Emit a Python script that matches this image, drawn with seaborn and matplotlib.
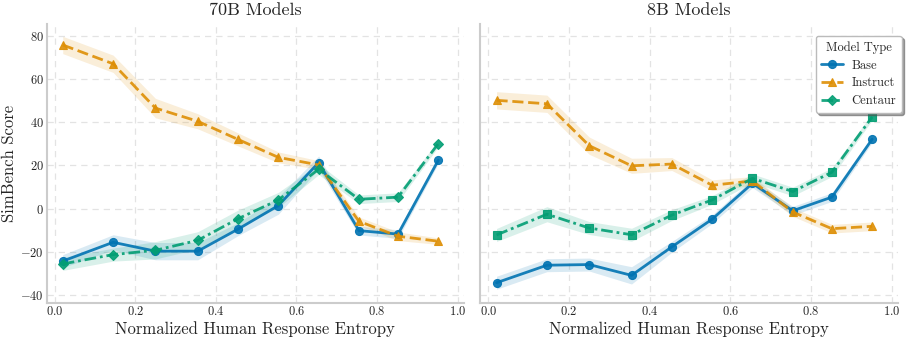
import numpy as np
import pandas as pd
import matplotlib
matplotlib.use("Agg")
import matplotlib.pyplot as plt
import seaborn as sns

x = [0.02, 0.145, 0.25, 0.355, 0.455, 0.555, 0.655, 0.755, 0.852, 0.952]

b70_base = [-24.3, -15.6, -19.7, -19.7, -9.5, 1.4, 21.3, -10.2, -11.8, 22.4]
b70_instruct = [75.7, 67.0, 46.5, 40.4, 32.0, 23.7, 20.2, -5.9, -12.8, -15.1]
b70_centaur = [-25.6, -21.3, -19.3, -14.7, -4.7, 4.0, 18.2, 4.3, 5.3, 30.1]
b70_base_ci = [3, 3.5, 4, 4, 3, 4, 3, 2, 2, 1.5]
b70_instruct_ci = [4, 4, 4.5, 3.5, 3, 2.5, 2, 2, 2, 1.5]
b70_centaur_ci = [3, 3, 4, 4, 4, 3.5, 2.5, 2, 2, 1.5]

b8_base = [-34.3, -26.2, -25.9, -30.9, -17.7, -4.9, 11.7, -1.0, 5.3, 32.1]
b8_instruct = [50.1, 48.5, 29.1, 19.8, 20.6, 10.8, 12.8, -1.6, -9.3, -8.2]
b8_centaur = [-12.2, -2.6, -9.0, -12.1, -3.0, 4.0, 14.0, 7.9, 16.8, 42.4]
b8_base_ci = [3, 3, 3, 4, 2.5, 2, 2, 2, 2, 1.5]
b8_instruct_ci = [4, 4, 4, 3.5, 3, 2.5, 2, 2, 2, 2]
b8_centaur_ci = [3, 3.5, 3, 3, 2.5, 2, 2, 2, 2, 1.5]

model_types = ["Base", "Instruct", "Centaur"]
panel_titles = ["70B Models", "8B Models"]

sns.set_theme(style="whitegrid")
plt.rcParams["font.family"] = ["cmr10", "DejaVu Serif"]
plt.rcParams["axes.formatter.use_mathtext"] = True
plt.rcParams["mathtext.fontset"] = "cm"

pal = sns.color_palette("colorblind")
colors = {"Base": pal[0], "Instruct": pal[1], "Centaur": pal[2]}
linestyles = {"Base": "-", "Instruct": (0, (4, 1.7)), "Centaur": (0, (4.2, 1.4, 1.0, 1.4))}

panels = [
    {"Base": (b70_base, b70_base_ci), "Instruct": (b70_instruct, b70_instruct_ci),
     "Centaur": (b70_centaur, b70_centaur_ci)},
    {"Base": (b8_base, b8_base_ci), "Instruct": (b8_instruct, b8_instruct_ci),
     "Centaur": (b8_centaur, b8_centaur_ci)},
]
panel_markers = [
    {"Base": "o", "Instruct": "^", "Centaur": "D"},
    {"Base": "o", "Instruct": "^", "Centaur": "s"},
]

fig, axes = plt.subplots(1, 2, figsize=(9.14, 3.4), dpi=100, sharey=True)
fig.subplots_adjust(left=0.051, right=0.982, top=0.93, bottom=0.11, wspace=0.04)

for ax, pdata, markers, title in zip(axes, panels, panel_markers, panel_titles):
    for m in model_types:
        vals, ci = pdata[m]
        df = pd.DataFrame({"x": x, "y": vals})
        lo = np.array(vals) - np.array(ci)
        hi = np.array(vals) + np.array(ci)
        ax.fill_between(x, lo, hi, color=colors[m], alpha=0.15, linewidth=0)
        sns.lineplot(data=df, x="x", y="y", ax=ax, color=colors[m], marker=markers[m],
                     markersize=5.8 if markers[m] != "D" else 5.3, linewidth=2,
                     linestyle=linestyles[m], markeredgecolor=colors[m],
                     markeredgewidth=0.8, label=m, errorbar=None, alpha=0.9)
    ax.set_title(title, fontsize=13)
    ax.set_xlabel("Normalized Human Response Entropy", fontsize=12, labelpad=2)
    ax.set_xlim(-0.02, 1.015)
    ax.set_ylim(-43.5, 85.5)
    ax.set_xticks([0.0, 0.2, 0.4, 0.6, 0.8, 1.0])
    ax.set_yticks([-40, -20, 0, 20, 40, 60, 80])
    ax.tick_params(labelsize=9, pad=2, length=0)
    ax.grid(True, linestyle=(0, (5, 4)), color="#e3e3e3", linewidth=0.9)
    for s in ["top", "right"]:
        ax.spines[s].set_visible(False)
    for s in ["left", "bottom"]:
        ax.spines[s].set_color("#cccccc")
        ax.spines[s].set_linewidth(1.5)
    if ax.get_legend():
        ax.get_legend().remove()

axes[0].set_ylabel("SimBench Score", fontsize=12, labelpad=2)
axes[1].set_ylabel("")
axes[1].tick_params(axis="y", labelleft=False)

handles, labels = axes[0].get_legend_handles_labels()
leg = axes[1].legend(handles, labels, title="Model Type", loc="upper right",
                     fontsize=9, title_fontsize=9, frameon=True, shadow=True,
                     fancybox=True, borderpad=0.45, handlelength=1.7,
                     handletextpad=0.7, labelspacing=0.45,
                     bbox_to_anchor=(1.025, 0.98))
leg.get_frame().set_edgecolor("#bbbbbb")

fig.savefig("out.png", dpi=100)
